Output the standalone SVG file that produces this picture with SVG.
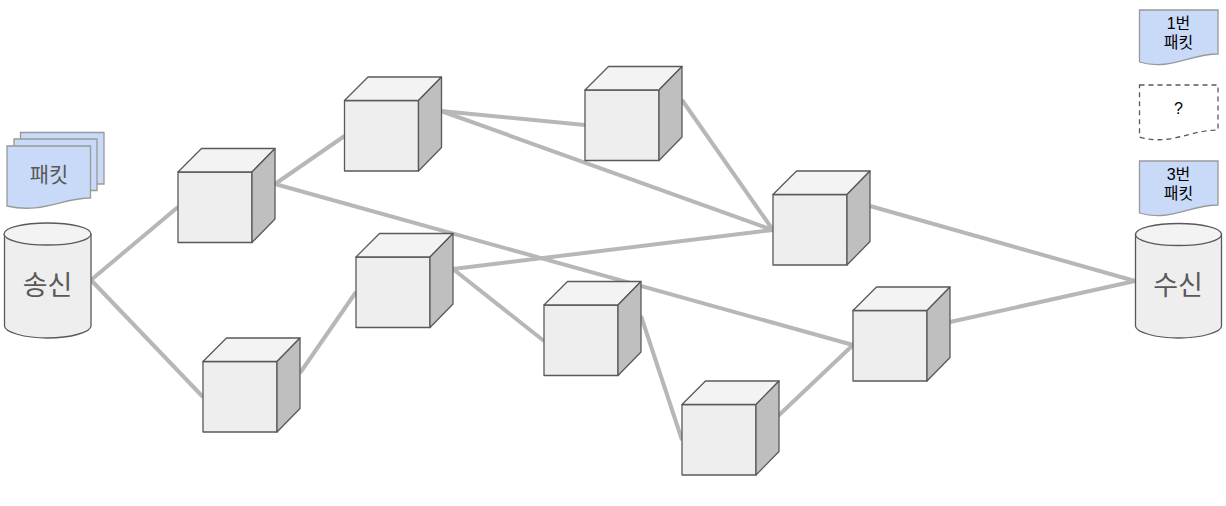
<svg xmlns="http://www.w3.org/2000/svg" width="1226" height="506" viewBox="0 0 1226 506">
<style>
.c{fill:none;stroke:#b7b7b7;stroke-width:4}
.f{fill:#eeeeee;stroke:#595959;stroke-width:1.3;stroke-linejoin:round}
.t{fill:#f3f3f3;stroke:#595959;stroke-width:1.3;stroke-linejoin:round}
.s{fill:#bfbfbf;stroke:#595959;stroke-width:1.3;stroke-linejoin:round}
.p{fill:#c9daf8;stroke:#999999;stroke-width:1.3}
.l{font-family:"Liberation Sans","Noto Sans CJK KR",sans-serif;text-anchor:middle}
.big{font-size:27px;fill:#595959}
.mid{font-size:21px;fill:#595959}
.sm{font-size:16px;fill:#000}
</style>
<defs>
<g id="cube">
<path class="f" d="M0 23.500H74V94H0Z"/>
<path class="t" d="M0 23.500L23.500 0H97L74 23.500Z"/>
<path class="s" d="M74 23.500L97 0V70.500L74 94Z"/>
</g>
</defs>
<g id="connectors">
<path class="c" d="M91 280L178 207"/>
<path class="c" d="M91 280L203 397"/>
<path class="c" d="M275 184L344.500 136"/>
<path class="c" d="M275 184L853 345"/>
<path class="c" d="M300 373L356 292"/>
<path class="c" d="M441 111L585 125"/>
<path class="c" d="M441 111L773 230"/>
<path class="c" d="M682 100L773 230"/>
<path class="c" d="M453 269L773 230"/>
<path class="c" d="M453 269L544 341"/>
<path class="c" d="M641 316L682 440"/>
<path class="c" d="M778 416L853 345"/>
<path class="c" d="M870 206L1135 281"/>
<path class="c" d="M950 322L1135 281"/>
</g>
<g id="node1"><use href="#cube" x="178" y="148.500"/></g>
<g id="node2"><use href="#cube" x="344.500" y="77"/></g>
<g id="node3"><use href="#cube" x="585" y="66.500"/></g>
<g id="node4"><use href="#cube" x="773" y="171"/></g>
<g id="node5"><use href="#cube" x="853" y="287"/></g>
<g id="node6"><use href="#cube" x="356" y="233.500"/></g>
<g id="node7"><use href="#cube" x="203" y="338"/></g>
<g id="node8"><use href="#cube" x="544" y="281.500"/></g>
<g id="node9"><use href="#cube" x="682" y="381"/></g>
<g id="packets">
<path class="p" d="M20.500 132.500H104V184H20.500Z"/>
<path class="p" d="M14 139H97V190.500H14Z"/>
<path class="p" d="M7 146H90.500V198C62 198 42 214 7 206Z"/>
<text class="l mid" x="49" y="182">패킷</text>
</g>
<g id="sender">
<path class="f" d="M4.500 234V326C4.500 332 24 338 47.500 338S91 332 91 326V234Z"/>
<ellipse class="t" cx="47.500" cy="234" rx="43.500" ry="11"/>
<text class="l big" x="47.500" y="295">송신</text>
</g>
<g id="receiver">
<path class="f" d="M1135.500 234V326C1135.500 332 1155 338 1178.500 338S1221.500 332 1221.500 326V234Z"/>
<ellipse class="t" cx="1178.500" cy="234.500" rx="43" ry="11"/>
<text class="l big" x="1178" y="295">수신</text>
</g>
<g id="packet1">
<path class="p" d="M1139.500 10H1218V54C1190 54 1170 71 1139.500 62Z"/>
<text class="l sm" x="1178.500" y="29">1번</text>
<text class="l sm" x="1178.500" y="48">패킷</text>
</g>
<g id="packet2">
<path d="M1139.500 85H1218V130C1190 130 1170 146 1139.500 137Z" fill="none" stroke="#595959" stroke-width="1.300" stroke-dasharray="5 4"/>
<text class="l sm" x="1178.500" y="114">?</text>
</g>
<g id="packet3">
<path class="p" d="M1139.500 161H1218V205C1190 205 1170 222 1139.500 213Z"/>
<text class="l sm" x="1178.500" y="180">3번</text>
<text class="l sm" x="1178.500" y="199">패킷</text>
</g>
</svg>
